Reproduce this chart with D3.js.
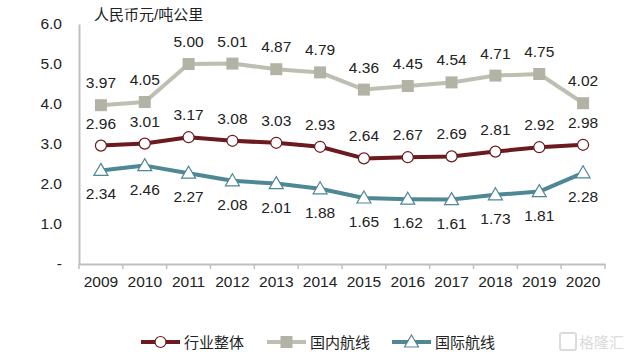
<!DOCTYPE html>
<html><head><meta charset="utf-8">
<script src="https://cdn.jsdelivr.net/npm/d3@7"></script>
<style>body{margin:0;background:#fff}svg{display:block}text{font-family:"Liberation Sans",Arial,"Noto Sans CJK SC",sans-serif}</style>
</head><body>
<svg id="c" width="631" height="357"></svg>
<script>
const years = ["2009","2010","2011","2012","2013","2014","2015","2016","2017","2018","2019","2020"];
const overall = [2.96,3.01,3.17,3.08,3.03,2.93,2.64,2.67,2.69,2.81,2.92,2.98];
const domestic = [3.97,4.05,5.00,5.01,4.87,4.79,4.36,4.45,4.54,4.71,4.75,4.02];
const international = [2.34,2.46,2.27,2.08,2.01,1.88,1.65,1.62,1.61,1.73,1.81,2.28];
const yTicks = [0,1,2,3,4,5,6];
const seriesNames = ["行业整体","国内航线","国际航线"];
const unitLabel = "人民币元/吨公里";

const svg = d3.select("#c");
const x = d3.scaleBand().domain(years).range([79,605]);
const y = d3.scaleLinear().domain([0,6]).range([264,24]);
const cx = d => x(d) + x.bandwidth()/2;

const red = "#6B1A1F", grey = "#BEBEB2", greyM = "#B3B3A5", teal = "#4E8795";
const fs = 15.5;

// y axis
const yAxis = svg.append("g").attr("transform","translate(79,0)")
  .call(d3.axisLeft(y).tickValues(yTicks).tickSize(0).tickPadding(17)
    .tickFormat(d => d === 0 ? "-" : d3.format(".1f")(d)));
yAxis.select(".domain").attr("stroke","#BFBFBF").attr("stroke-width",2);
yAxis.selectAll("text").attr("font-size",fs).attr("fill","#222");

// x axis
const xAxis = svg.append("g").attr("transform","translate(0,264)")
  .call(d3.axisBottom(x).tickSize(0).tickPadding(12));
xAxis.select(".domain").attr("stroke","#BFBFBF").attr("stroke-width",2);
xAxis.selectAll("text").attr("font-size",fs).attr("fill","#222");
const bounds = years.map(d => x(d)).concat([605]);
svg.append("g").selectAll("line").data(bounds).join("line")
  .attr("x1",d=>d).attr("x2",d=>d).attr("y1",264).attr("y2",269)
  .attr("stroke","#BFBFBF").attr("stroke-width",1.5);

// unit
svg.append("text").attr("x",94).attr("y",20).attr("font-size",15).attr("fill","#222").text(unitLabel);

const line = d3.line().x((d,i)=>cx(years[i])).y(d=>y(d));

function drawSeries(vals, color, marker, labelPos){
  svg.append("path").datum(vals).attr("d",line).attr("fill","none")
    .attr("stroke",color).attr("stroke-width",4).attr("stroke-linejoin","round");
  const g = svg.append("g");
  vals.forEach((v,i)=>{
    const px = cx(years[i]), py = y(v);
    marker(g, px, py);
    svg.append("text").attr("x",px).attr("y", labelPos==="above" ? py-17 : py+29)
      .attr("text-anchor","middle").attr("font-size",fs).attr("fill","#222")
      .text(v.toFixed(2));
  });
}
const circleM = (g,px,py)=> g.append("circle").attr("cx",px).attr("cy",py).attr("r",5.5)
  .attr("fill","#fff").attr("stroke",red).attr("stroke-width",1.2);
const squareM = (g,px,py)=> g.append("rect").attr("x",px-6).attr("y",py-6).attr("width",12).attr("height",12)
  .attr("fill",greyM);
const triM = (g,px,py)=> g.append("path").attr("d",`M${px},${py-7}L${px+7},${py+5}L${px-7},${py+5}Z`)
  .attr("fill","#fff").attr("stroke",teal).attr("stroke-width",1.2);

drawSeries(domestic, grey, squareM, "above");
drawSeries(overall, red, circleM, "above");
drawSeries(international, teal, triM, "below");

// legend
const legend = [
  {name:seriesNames[0], color:red, m:circleM, x0:141},
  {name:seriesNames[1], color:grey, m:squareM, x0:267},
  {name:seriesNames[2], color:teal, m:triM, x0:392}
];
legend.forEach(l=>{
  svg.append("line").attr("x1",l.x0).attr("x2",l.x0+39).attr("y1",342).attr("y2",342)
    .attr("stroke",l.color).attr("stroke-width",4);
  l.m(svg, l.x0+19.5, 342);
  svg.append("text").attr("x",l.x0+43).attr("y",347.5).attr("font-size",15).attr("fill","#222").text(l.name);
});

// watermark
const wm = svg.append("g").attr("opacity",0.35);
wm.append("rect").attr("x",560).attr("y",333).attr("width",16).attr("height",17).attr("rx",2)
  .attr("fill","none").attr("stroke","#999").attr("stroke-width",2);
wm.append("text").attr("x",579).attr("y",348).attr("font-size",15).attr("fill","#999").text("格隆汇");
</script>
</body></html>
